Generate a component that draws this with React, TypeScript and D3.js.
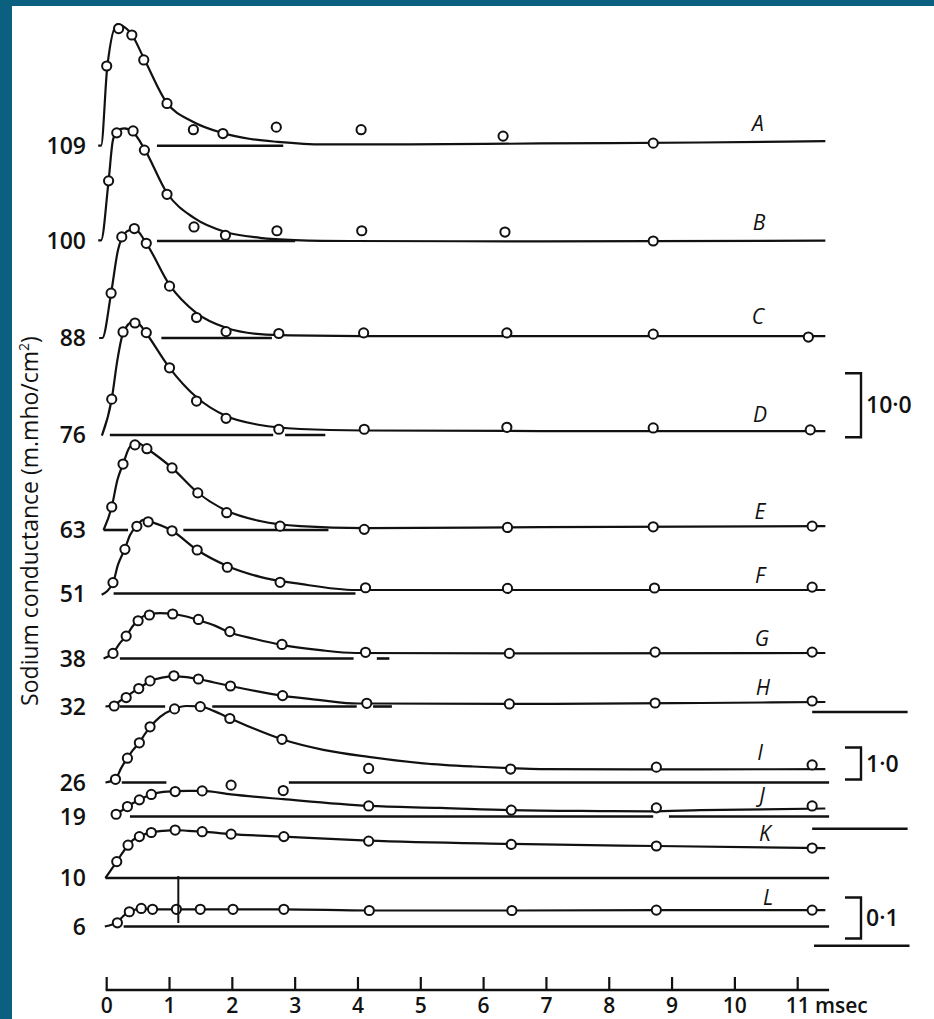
import React from 'react';
import * as d3 from 'd3';

// ---------- data ----------
const traceIds = ['A', 'B', 'C', 'D', 'E', 'F', 'G', 'H', 'I', 'J', 'K', 'L'];
const voltages = [109, 100, 88, 76, 63, 51, 38, 32, 26, 19, 10, 6];
const scaleGroup = [0, 0, 0, 0, 0, 0, 0, 0, 1, 1, 2, 2];
const scaleBarValues = [10, 1, 0.1];
const scaleBarLabels = ['10·0', '1·0', '0·1'];
const timeTicks = [0, 1, 2, 3, 4, 5, 6, 7, 8, 9, 10, 11];
const timeUnit = 'msec';
const yTitle = 'Sodium conductance (m.mho/cm';

type P = [number, number];

const curveA: P[] = [[-0.135, 0], [-0.09, 0], [0.01, 12.4], [0.17, 19.0], [0.21, 18.9], [0.39, 17.5], [0.58, 13.9], [0.95, 6.8], [1.38, 3.7], [1.84, 2.0], [2.29, 1.05], [2.72, 0.6], [3.45, 0.2], [4.68, 0.2], [6.9, 0.35], [9.45, 0.5], [11.44, 0.7]];
const pointsA: P[] = [[0.0, 12.45], [0.19, 18.3], [0.4, 17.3], [0.59, 13.4], [0.96, 6.6], [1.38, 2.5], [1.85, 1.9], [2.7, 2.9], [4.05, 2.5], [6.31, 1.5], [8.7, 0.4]];
const zeroA: P[] = [[0.8, 2.81]];

const curveB: P[] = [[-0.135, 0.1], [-0.09, 0.1], [0.03, 9.4], [0.1, 15.8], [0.18, 17.3], [0.28, 17.6], [0.42, 17.0], [0.6, 14.4], [0.96, 7.5], [1.39, 3.6], [1.89, 1.4], [2.44, 0.5], [3.0, 0.15], [3.88, 0], [6.9, -0.05], [11.44, 0.05]];
const pointsB: P[] = [[0.03, 9.4], [0.16, 16.9], [0.42, 17.2], [0.6, 14.2], [0.96, 7.3], [1.39, 2.2], [1.89, 0.9], [2.71, 1.6], [4.06, 1.6], [6.34, 1.4], [8.7, 0]];
const zeroB: P[] = [[0.8, 3.0]];

const curveC: P[] = [[-0.12, 0], [-0.07, 0], [0.07, 7.0], [0.18, 13.75], [0.28, 16.25], [0.37, 16.9], [0.45, 17.0], [0.63, 14.8], [1.0, 8.3], [1.43, 3.9], [1.9, 1.6], [2.44, 0.6], [2.92, 0.4], [4.04, 0.3], [6.9, 0.3], [11.44, 0.3]];
const pointsC: P[] = [[0.07, 7.0], [0.24, 15.8], [0.44, 17.1], [0.63, 14.8], [1.0, 8.1], [1.43, 3.2], [1.9, 1.0], [2.74, 0.7], [4.09, 0.8], [6.37, 0.8], [8.7, 0.6], [11.17, 0.15]];
const zeroC: P[] = [[0.87, 2.63]];

const curveD: P[] = [[-0.076, -0.1], [0.08, 5.6], [0.17, 11.7], [0.26, 15.9], [0.42, 17.7], [0.53, 17.2], [0.63, 15.9], [1.0, 10.5], [1.43, 5.9], [1.9, 2.97], [2.44, 1.56], [3.08, 0.94], [4.1, 0.7], [6.9, 0.62], [11.44, 0.62]];
const pointsD: P[] = [[0.08, 5.6], [0.26, 16.1], [0.45, 17.5], [0.63, 16.0], [1.0, 10.5], [1.43, 5.3], [1.9, 2.6], [2.74, 0.9], [4.1, 0.9], [6.37, 1.2], [8.7, 1.1], [11.2, 0.8]];
const zeroD: P[] = [[0.05, 2.65], [2.84, 3.48]];

const curveE: P[] = [[-0.05, 0], [0.08, 3.6], [0.17, 7.8], [0.26, 10.3], [0.37, 13.0], [0.49, 13.6], [0.64, 12.7], [1.04, 9.7], [1.44, 5.9], [1.91, 3.0], [2.44, 1.4], [3.08, 0.6], [4.1, 0.3], [6.9, 0.45], [11.44, 0.6]];
const pointsE: P[] = [[0.08, 3.6], [0.26, 10.3], [0.45, 13.3], [0.64, 12.7], [1.04, 9.7], [1.45, 5.8], [1.91, 2.7], [2.76, 0.6], [4.1, 0.1], [6.38, 0.4], [8.7, 0.5], [11.23, 0.6]];
const zeroE: P[] = [[-0.05, 0.34], [1.22, 3.53]];

const curveF: P[] = [[-0.08, -0.2], [0.1, 1.7], [0.18, 4.5], [0.29, 7.0], [0.37, 9.1], [0.49, 10.7], [0.58, 11.5], [0.66, 11.3], [1.04, 9.8], [1.44, 6.8], [1.92, 4.3], [2.44, 2.6], [3.08, 1.5], [3.96, 0.55], [6.9, 0.55], [11.44, 0.55]];
const pointsF: P[] = [[0.1, 1.7], [0.29, 6.9], [0.48, 10.5], [0.66, 11.2], [1.04, 9.8], [1.44, 6.8], [1.92, 4.1], [2.76, 1.75], [4.12, 0.9], [6.38, 0.8], [8.72, 0.86], [11.23, 1.0]];
const zeroF: P[] = [[0.11, 3.96]];

const curveG: P[] = [[-0.05, 0], [0.1, 0.86], [0.21, 2.4], [0.31, 3.5], [0.41, 5.0], [0.5, 6.0], [0.6, 6.7], [0.7, 7.0], [0.85, 7.1], [1.06, 6.95], [1.25, 6.6], [1.46, 6.0], [1.73, 5.1], [1.95, 4.1], [2.36, 3.05], [2.8, 2.1], [3.4, 1.3], [3.96, 0.86], [6.9, 0.8], [11.44, 0.86]];
const pointsG: P[] = [[0.1, 0.8], [0.31, 3.5], [0.5, 5.9], [0.68, 6.8], [1.05, 6.95], [1.46, 6.1], [1.96, 4.2], [2.79, 2.2], [4.12, 0.97], [6.41, 0.8], [8.73, 1.0], [11.23, 1.0]];
const zeroG: P[] = [[0.21, 3.93], [4.3, 4.5]];

const curveH: P[] = [[-0.02, 0], [0.12, 0.23], [0.21, 0.86], [0.31, 1.48], [0.41, 2.2], [0.5, 2.8], [0.6, 3.4], [0.69, 3.98], [0.88, 4.5], [1.07, 4.7], [1.27, 4.6], [1.46, 4.3], [1.71, 3.75], [1.97, 3.2], [2.38, 2.4], [2.79, 1.7], [3.4, 1.0], [3.99, 0.47], [4.15, 0.47], [6.9, 0.4], [9.45, 0.55], [11.44, 0.7]];
const pointsH: P[] = [[0.12, 0.08], [0.31, 1.4], [0.51, 2.8], [0.69, 4.0], [1.07, 4.8], [1.46, 4.3], [1.97, 3.2], [2.8, 1.7], [4.14, 0.5], [6.41, 0.4], [8.73, 0.55], [11.23, 0.86]];
const zeroH: P[] = [[0.21, 0.93], [1.68, 3.98], [4.24, 4.54]];

const curveI: P[] = [[-0.02, 0], [0.14, 0.11], [0.23, 0.45], [0.33, 0.77], [0.42, 1.02], [0.52, 1.25], [0.61, 1.52], [0.69, 1.73], [0.85, 2.05], [1.07, 2.3], [1.27, 2.39], [1.49, 2.38], [1.71, 2.23], [1.95, 2.02], [2.36, 1.67], [2.79, 1.35], [3.45, 1.02], [4.17, 0.8], [5.04, 0.6], [5.83, 0.5], [6.41, 0.45], [6.9, 0.42], [9.45, 0.41], [11.44, 0.42]];
const pointsI: P[] = [[0.14, 0.1], [0.33, 0.76], [0.52, 1.24], [0.69, 1.74], [1.08, 2.3], [1.49, 2.37], [1.96, 2.0], [2.79, 1.35], [4.17, 0.44], [6.43, 0.42], [8.75, 0.48], [11.23, 0.55]];
const zeroI: P[] = [[0.24, 0.95], [2.9, 11.5]];

const curveJ: P[] = [[0.1, 0], [0.15, 0.07], [0.25, 0.2], [0.33, 0.3], [0.42, 0.42], [0.52, 0.52], [0.61, 0.61], [0.71, 0.69], [0.9, 0.77], [1.09, 0.79], [1.3, 0.8], [1.52, 0.8], [1.98, 0.69], [2.81, 0.54], [4.17, 0.33], [5.31, 0.27], [6.44, 0.2], [7.86, 0.17], [8.65, 0.16], [9.45, 0.2], [11.44, 0.25]];
const pointsJ: P[] = [[0.15, 0.07], [0.33, 0.31], [0.52, 0.52], [0.71, 0.69], [1.09, 0.78], [1.52, 0.8], [1.98, 0.98], [2.81, 0.81], [4.17, 0.33], [6.44, 0.2], [8.75, 0.27], [11.23, 0.33]];
const zeroJ: P[] = [[0.37, 8.7], [8.95, 11.5]];

const curveK: P[] = [[-0.02, 0], [0.056, 0.017], [0.16, 0.04], [0.25, 0.061], [0.34, 0.08], [0.42, 0.093], [0.52, 0.1], [0.61, 0.107], [0.71, 0.111], [0.9, 0.115], [1.09, 0.117], [1.3, 0.115], [1.52, 0.113], [1.98, 0.107], [2.81, 0.101], [4.16, 0.091], [6.44, 0.083], [8.75, 0.078], [11.44, 0.073]];
const pointsK: P[] = [[0.16, 0.04], [0.34, 0.08], [0.52, 0.101], [0.71, 0.111], [1.09, 0.117], [1.52, 0.113], [1.98, 0.107], [2.82, 0.101], [4.17, 0.09], [6.44, 0.082], [8.75, 0.078], [11.23, 0.073]];
const zeroK: P[] = [[-0.02, 11.5]];

const curveL: P[] = [[-0.03, 0], [0.09, 0.005], [0.17, 0.01], [0.26, 0.025], [0.36, 0.036], [0.45, 0.041], [0.55, 0.044], [0.72, 0.042], [1.49, 0.042], [2.81, 0.042], [4.18, 0.039], [6.46, 0.039], [8.75, 0.04], [11.44, 0.04]];
const pointsL: P[] = [[0.17, 0.009], [0.36, 0.036], [0.55, 0.044], [0.73, 0.042], [1.11, 0.042], [1.49, 0.042], [2.01, 0.042], [2.82, 0.042], [4.18, 0.039], [6.45, 0.039], [8.75, 0.04], [11.23, 0.04]];
const zeroL: P[] = [[0.27, 11.5]];
const markerL: [number, number, number] = [1.14, 0.0085, 0.123]; // time, from, to

const curves = [curveA, curveB, curveC, curveD, curveE, curveF, curveG, curveH, curveI, curveJ, curveK, curveL];
const points = [pointsA, pointsB, pointsC, pointsD, pointsE, pointsF, pointsG, pointsH, pointsI, pointsJ, pointsK, pointsL];
const zeros = [zeroA, zeroB, zeroC, zeroD, zeroE, zeroF, zeroG, zeroH, zeroI, zeroJ, zeroK, zeroL];
// side rules beyond the axis: [trace index, level, tStart, tEnd]
const sideRules: [number, number, number, number][] = [[7, -0.86, 11.23, 12.75], [10, 0.12, 11.23, 12.75], [11, -0.047, 11.26, 12.78]];

// ---------- layout ----------
const W = 934;
const H = 1019;
const INK = '#111';
const BORDER = '#0b6080';
const FONT = '"Open Sans", "DejaVu Sans", sans-serif';
const traceBaseY = [145.7, 241, 338, 435, 530, 593.5, 658.5, 706.5, 782.5, 816.5, 878, 926.5];
const scaleBarPx = [64, 32, 41];
const bracketBottom = [437.3, 779.5, 938.5];
const letterX = [758, 759, 758, 760, 760, 760, 762, 763, 760, 762, 765, 768];
const letterY = [123, 222.5, 316, 414.5, 511, 575, 638, 687.5, 752, 795, 833, 897];
const axisY = 990;
const tickLabelY = 1013;

const xScale = d3.scaleLinear().domain([0, 11]).range([106.7, 797.7]);
const yScales = traceIds.map((_, i) =>
  d3.scaleLinear()
    .domain([0, scaleBarValues[scaleGroup[i]]])
    .range([traceBaseY[i], traceBaseY[i] - scaleBarPx[scaleGroup[i]]])
);

export default function App() {
  return (
    <svg width={W} height={H} style={{ position: 'absolute', left: 0, top: 0, display: 'block', background: '#fff' }}
      fontFamily={FONT}>
      <rect x={0} y={0} width={W} height={H} fill="#fff" />
      {/* border */}
      <rect x={0} y={0} width={W} height={6} fill={BORDER} />
      <rect x={0} y={0} width={12} height={H} fill={BORDER} />

      {/* traces */}
      {traceIds.map((id, i) => {
        const ys = yScales[i];
        const line = d3.line<P>().x(d => xScale(d[0])).y(d => ys(d[1])).curve(d3.curveMonotoneX);
        return (
          <g key={id}>
            {zeros[i].map((seg, k) => (
              <line key={k} x1={xScale(seg[0])} x2={xScale(seg[1])} y1={ys(0)} y2={ys(0)}
                stroke={INK} strokeWidth={2.6} />
            ))}
            <path d={line(curves[i]) || ''} fill="none" stroke={INK} strokeWidth={2.2} strokeLinejoin="round" />
            {points[i].map((p, k) => (
              <circle key={k} cx={xScale(p[0])} cy={ys(p[1])} r={4.6} fill="#fff" stroke={INK} strokeWidth={2} />
            ))}
            <text x={86} y={ys(0) + 8} textAnchor="end" fontSize={23} fontWeight={600} fill={INK}>{voltages[i]}</text>
            <text x={letterX[i]} y={letterY[i] + 7.5} textAnchor="middle" fontSize={21} fontStyle="italic" fill={INK}>{id}</text>
          </g>
        );
      })}

      {/* time marker on L */}
      <line x1={xScale(markerL[0])} x2={xScale(markerL[0])} y1={yScales[11](markerL[1])} y2={yScales[11](markerL[2])}
        stroke={INK} strokeWidth={2} />

      {/* side rules */}
      {sideRules.map((r, k) => (
        <line key={k} x1={xScale(r[2])} x2={xScale(r[3])} y1={yScales[r[0]](r[1])} y2={yScales[r[0]](r[1])}
          stroke={INK} strokeWidth={2.6} />
      ))}

      {/* scale brackets */}
      {scaleBarLabels.map((lab, k) => {
        const yb = bracketBottom[k];
        const yt = yb - scaleBarPx[k];
        return (
          <g key={lab}>
            <path d={`M845,${yt}H861V${yb}H845`} fill="none" stroke={INK} strokeWidth={2.4} />
            <text x={866} y={(yt + yb) / 2 + 8} fontSize={23} fontWeight={600} fill={INK}>{lab}</text>
          </g>
        );
      })}

      {/* time axis */}
      <line x1={xScale(0) - 1} x2={xScale(11.5)} y1={axisY} y2={axisY} stroke={INK} strokeWidth={2.4} />
      {timeTicks.map(t => (
        <g key={t}>
          <line x1={xScale(t)} x2={xScale(t)} y1={axisY} y2={axisY - 13} stroke={INK} strokeWidth={2.2} />
          <text x={xScale(t)} y={tickLabelY} textAnchor="middle" fontSize={21} fontWeight={600} fill={INK}>{t}</text>
        </g>
      ))}
      <text x={815} y={tickLabelY} fontSize={21} fontWeight={600} fill={INK}>{timeUnit}</text>

      {/* y title */}
      <text transform="translate(38,521) rotate(-90)" textAnchor="middle" fontSize={23} fill={INK}>
        {yTitle}<tspan fontSize={14} dy={-9}>2</tspan><tspan dy={9}>)</tspan>
      </text>
    </svg>
  );
}
